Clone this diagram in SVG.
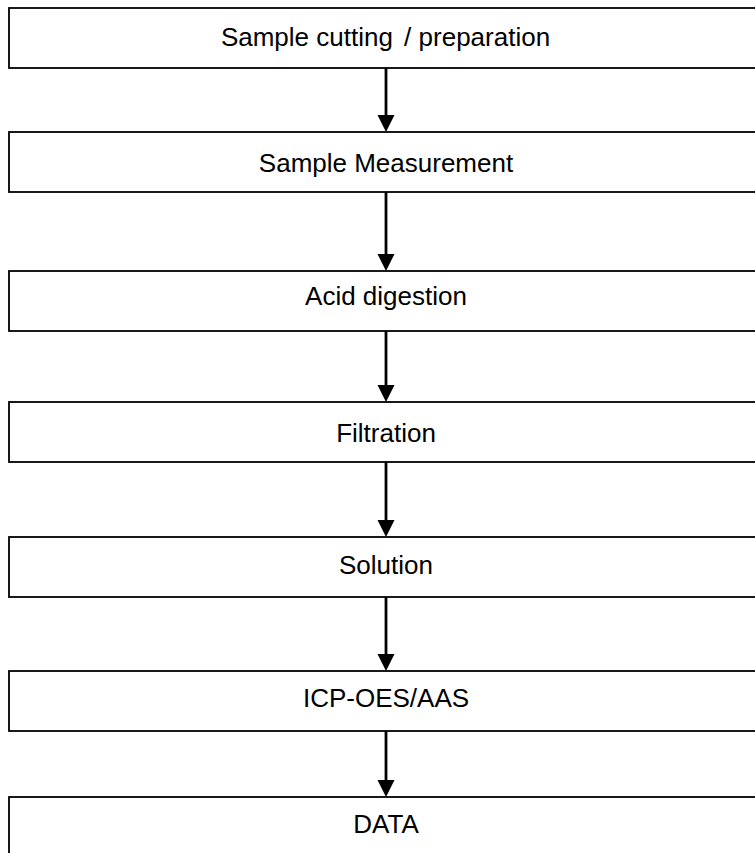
<svg xmlns="http://www.w3.org/2000/svg" width="755" height="853" viewBox="0 0 755 853">
<style>
.box{fill:#fff;stroke:#000;stroke-width:1.8}
.lbl{font-family:"Liberation Sans",Arial,sans-serif;font-size:26px;fill:#000;text-anchor:middle}
.conn{stroke:#000;stroke-width:2.8;fill:none}
.head{fill:#000}
</style>
<rect width="755" height="853" fill="#fff"/>
<g id="n1"><rect class="box" x="9" y="8" width="760" height="60"/><text class="lbl" x="385.5" y="46">Sample cutting <tspan dx="4">/ preparation</tspan></text></g>
<g id="n2"><rect class="box" x="9" y="132" width="760" height="60"/><text class="lbl" x="386" y="172">Sample Measurement</text></g>
<g id="n3"><rect class="box" x="9" y="271" width="760" height="60"/><text class="lbl" x="386" y="305">Acid digestion</text></g>
<g id="n4"><rect class="box" x="9" y="402" width="760" height="60"/><text class="lbl" x="386" y="442">Filtration</text></g>
<g id="n5"><rect class="box" x="9" y="537" width="760" height="60"/><text class="lbl" x="386" y="574">Solution</text></g>
<g id="n6"><rect class="box" x="9" y="671" width="760" height="60"/><text class="lbl" x="386" y="707">ICP-OES/AAS</text></g>
<g id="n7"><rect class="box" x="9" y="797" width="760" height="80"/><text class="lbl" x="386" y="833">DATA</text></g>
<g id="connectors">
<line class="conn" x1="386" y1="68" x2="386" y2="116"/>
<path class="head" d="M377.5,115 L394.5,115 L386,132 Z"/>
<line class="conn" x1="386" y1="192" x2="386" y2="255"/>
<path class="head" d="M377.5,254 L394.5,254 L386,271 Z"/>
<line class="conn" x1="386" y1="331" x2="386" y2="386"/>
<path class="head" d="M377.5,385 L394.5,385 L386,402 Z"/>
<line class="conn" x1="386" y1="462" x2="386" y2="521"/>
<path class="head" d="M377.5,520 L394.5,520 L386,537 Z"/>
<line class="conn" x1="386" y1="597" x2="386" y2="655"/>
<path class="head" d="M377.5,654 L394.5,654 L386,671 Z"/>
<line class="conn" x1="386" y1="731" x2="386" y2="781"/>
<path class="head" d="M377.5,780 L394.5,780 L386,797 Z"/>
</g>
</svg>
